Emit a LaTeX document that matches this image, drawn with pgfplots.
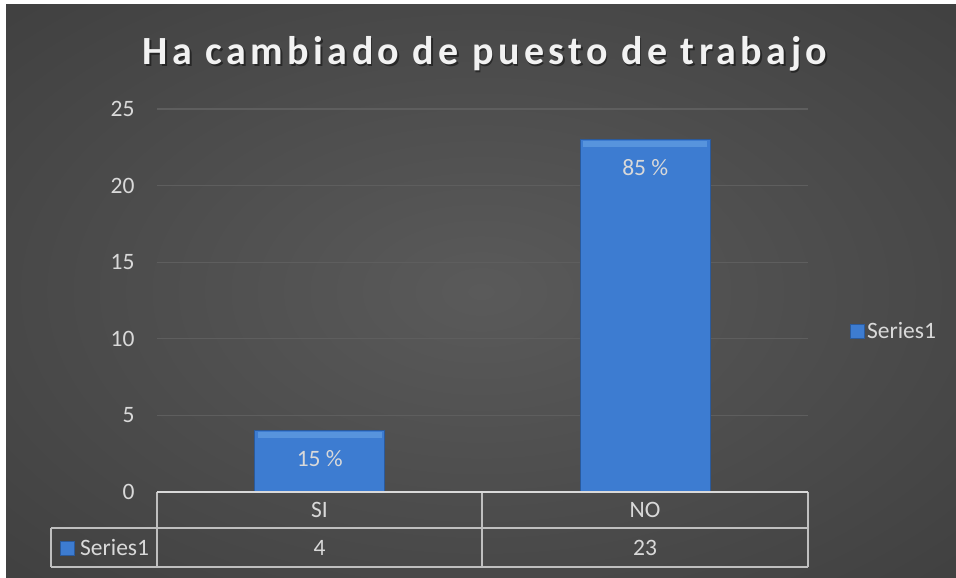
\documentclass[border=0pt]{standalone}
\usepackage{fontspec}
\setmainfont{Carlito}
\newfontfamily\titlefont[LetterSpace=11]{Carlito}
\usepackage{pgfplots}
\pgfplotsset{compat=1.18}
\definecolor{bgin}{HTML}{5A5A5A}
\definecolor{bgout}{HTML}{262626}
\definecolor{barblue}{HTML}{3D7CD1}
\definecolor{barlight}{HTML}{5794DD}
\definecolor{bardark}{HTML}{2A5A9C}
\definecolor{txt}{HTML}{D9D9D9}
\definecolor{gridc}{HTML}{5E5E5E}
\definecolor{tbl}{HTML}{BFBFBF}
\pgfdeclareradialshading{bgshade}{\pgfpoint{0bp}{0bp}}{color(0bp)=(bgin); color(72bp)=(bgout)}
\newcommand{\lbl}{\fontsize{23.5bp}{28bp}\selectfont}

\begin{document}
\begin{tikzpicture}[x=1bp,y=1bp]
  \fill[white] (0,0) rectangle (956,578);
  \shade[shading=bgshade] (6,0) rectangle (956,573);
  % title with soft shadow
  \node[anchor=base, text=black, opacity=0.45, font=\titlefont\bfseries\fontsize{40bp}{46bp}\selectfont]
    at (486.5,511.5) {Ha cambiado de puesto de trabajo};
  \node[anchor=base, text=white!95!black, font=\titlefont\bfseries\fontsize{40bp}{46bp}\selectfont]
    at (485,513) {Ha cambiado de puesto de trabajo};

  \begin{axis}[
      at={(157bp,86bp)}, anchor=south west,
      width=651bp, height=383bp, scale only axis,
      xmin=-0.5, xmax=1.5, ymin=0, ymax=25,
      ybar, bar width=0.4,
      xtick=\empty,
      ytick={0,5,...,25},
      ymajorgrids,
      grid style={gridc, line width=1.3bp},
      axis line style={draw=none},
      major tick length=0pt,
      yticklabel style={text=txt, font=\lbl, anchor=east, xshift=-19bp},
      /pgf/number format/assume math mode=true,
      clip=false,
      legend style={at={(1.064,0.42)}, anchor=west, draw=none, fill=none,
        text=txt, font=\lbl, inner sep=0pt},
      legend image code/.code={%
        \fill[barblue, draw=bardark] (0bp,-7bp) rectangle (14bp,7bp);},
    ]
    \addplot[fill=barblue, draw=bardark, line width=1.2bp,
      point meta=explicit symbolic,
      nodes near coords,
      nodes near coords style={anchor=center, yshift=-28bp, text=txt, font=\lbl}]
      coordinates {(0,4) [15 \%] (1,23) [85 \%]};
    \addlegendentry{Series1}
    % bevel highlight along the top of each bar
    \addplot[forget plot, only marks, mark=-, mark size=62bp,
      mark options={barlight, line width=6bp, yshift=-4bp}]
      coordinates {(0,4) (1,23)};
  \end{axis}

  % data table
  \draw[tbl, line width=1.4bp] (51,50) -- (808,50);
  \draw[tbl, line width=1.4bp] (51,11) -- (808,11);
  \draw[tbl, line width=1.4bp] (51,50) -- (51,11);
  \draw[tbl, line width=1.4bp] (157,86) -- (157,11);
  \draw[tbl, line width=1.4bp] (482,86) -- (482,11);
  \draw[tbl, line width=1.4bp] (808,86) -- (808,11);
  \draw[txt, line width=2bp] (157,86) -- (808,86);
  \node[text=txt, font=\lbl] at (319.5,68) {SI};
  \node[text=txt, font=\lbl] at (645,68) {NO};
  \fill[barblue, draw=bardark] (60,23) rectangle (74,37);
  \node[anchor=west, inner sep=0pt, text=txt, font=\lbl] at (80,30) {Series1};
  \node[text=txt, font=\lbl] at (319.5,30) {4};
  \node[text=txt, font=\lbl] at (645,30) {23};
\end{tikzpicture}
\end{document}
